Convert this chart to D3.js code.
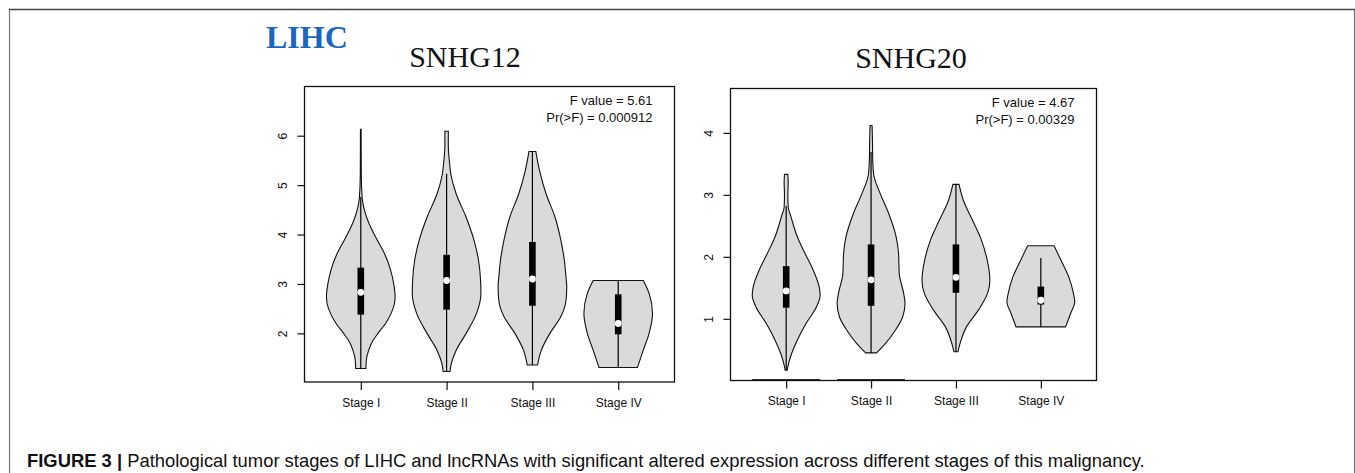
<!DOCTYPE html>
<html>
<head>
<meta charset="utf-8">
<script src="https://cdn.jsdelivr.net/npm/d3@7"></script>
<style>
  body { margin: 0; background: #fff; }
  svg { display: block; }
</style>
</head>
<body>
<script>
// data
const stages = ['Stage I', 'Stage II', 'Stage III', 'Stage IV'];
const genes = ['SNHG12', 'SNHG20'];
const fValues = ['5.61', '4.67'];
const pValues = ['0.000912', '0.00329'];
const snhg12Ticks = [2, 3, 4, 5, 6];
const snhg20Ticks = [1, 2, 3, 4];

// violin outline: [expression, relative half width]
const snhg12Shapes = [
  [[1.29,0.15],[1.45,0.16],[1.66,0.23],[1.85,0.35],[2.0,0.5],[2.2,0.72],[2.4,0.88],[2.6,0.98],[2.75,1.0],[3.0,0.96],[3.3,0.86],[3.6,0.7],[3.9,0.47],[4.1,0.32],[4.35,0.17],[4.75,0.04],[5.2,0.015],[6.13,0.01]],
  [[1.23,0.1],[1.4,0.14],[1.66,0.28],[2.0,0.57],[2.4,0.87],[2.8,1.0],[3.07,0.99],[3.48,0.93],[3.88,0.8],[4.35,0.57],[4.82,0.28],[5.2,0.13],[5.49,0.08],[5.8,0.05],[6.09,0.05]],
  [[1.36,0.15],[1.66,0.26],[2.0,0.51],[2.34,0.83],[2.67,0.98],[2.94,1.0],[3.2,0.97],[3.48,0.93],[3.88,0.83],[4.35,0.66],[4.82,0.4],[5.29,0.21],[5.68,0.1]],
  [[1.31,0.56],[1.66,0.73],[2.0,0.9],[2.4,1.0],[2.81,0.9],[3.07,0.73]]
];
// [lower whisker, q1, median, q3, upper whisker]
const snhg12Box = [
  [1.29, 2.38, 2.83, 3.33, 4.76],
  [1.23, 2.48, 3.07, 3.59, 5.23],
  [1.36, 2.56, 3.10, 3.85, 5.68],
  [1.31, 1.98, 2.20, 2.79, 3.07]
];
const snhg12Floor = [null, null, null, null];

const snhg20Shapes = [
  [[0.17,0.03],[0.23,0.05],[0.44,0.16],[0.66,0.33],[0.92,0.58],[1.19,0.89],[1.38,1.0],[1.52,0.97],[1.78,0.8],[2.05,0.56],[2.32,0.33],[2.65,0.14],[2.8,0.06],[3.0,0.05],[3.2,0.06],[3.33,0.05]],
  [[0.45,0.16],[0.6,0.42],[0.82,0.72],[1.03,0.93],[1.25,1.0],[1.41,0.96],[1.73,0.83],[2.05,0.81],[2.32,0.74],[2.7,0.52],[3.02,0.27],[3.32,0.08],[3.56,0.05],[3.9,0.04],[4.12,0.03]],
  [[0.47,0.06],[0.6,0.12],[0.87,0.31],[1.14,0.66],[1.41,0.93],[1.62,1.0],[1.95,0.92],[2.27,0.75],[2.59,0.49],[2.91,0.22],[3.17,0.09]],
  [[0.87,0.73],[1.09,0.88],[1.27,1.0],[1.41,0.96],[1.68,0.82],[1.95,0.59],[2.18,0.39]]
];
const snhg20Box = [
  [0.17, 1.18, 1.45, 1.85, 2.82],
  [0.45, 1.21, 1.63, 2.20, 3.69],
  [0.47, 1.42, 1.67, 2.20, 3.17],
  [0.87, 1.23, 1.30, 1.52, 1.98]
];
const snhg20Floor = [0.02, 0.02, null, null];

const W = 1355, H = 473;

let svg = d3.select('body').append('svg')
  .attr('width', W)
  .attr('height', H);

svg.append('rect').attr('width', W).attr('height', H).attr('fill', '#fff');

// outer frame
svg.append('path')
  .attr('d', `M9.5,${H} V9.5 H1354.5 V${H}`)
  .attr('fill', 'none')
  .attr('stroke', '#777')
  .attr('stroke-width', 1.2);
svg.append('line')
  .attr('x1', 9).attr('x2', 1355).attr('y1', 9.5).attr('y2', 9.5)
  .attr('stroke', '#444').attr('stroke-width', 1.5);

svg.append('text')
  .attr('x', 266).attr('y', 48)
  .attr('font-family', 'Liberation Serif, Times New Roman, serif')
  .attr('font-weight', 'bold')
  .attr('font-size', '32px')
  .attr('fill', '#1a68bd')
  .text('LIHC');

let panels = [
  {gene: genes[0], f: fValues[0], p: pValues[0], shapes: snhg12Shapes, boxes: snhg12Box, floor: snhg12Floor,
   ticks: snhg12Ticks, left: 304.5, right: 674.5, top: 86.5, bottom: 382, yDomain: [1.016, 6.996], titleX: 465, titleY: 67},
  {gene: genes[1], f: fValues[1], p: pValues[1], shapes: snhg20Shapes, boxes: snhg20Box, floor: snhg20Floor,
   ticks: snhg20Ticks, left: 730.5, right: 1096.5, top: 88.5, bottom: 380.5, yDomain: [0.005, 4.716], titleX: 911, titleY: 68}
];

panels.forEach(function (p) {
  let g = svg.append('g');

  let x = d3.scaleLinear().domain([0.344, 4.656]).range([p.left, p.right]);
  let y = d3.scaleLinear().domain(p.yDomain).range([p.bottom, p.top]);
  let hw = function (r) { return x(1 + 0.4 * r) - x(1); };

  // title
  g.append('text')
    .attr('x', p.titleX).attr('y', p.titleY)
    .attr('text-anchor', 'middle')
    .attr('font-family', 'Liberation Serif, Times New Roman, serif')
    .attr('font-size', '30px')
    .attr('fill', '#111')
    .text(p.gene);

  // violins
  p.shapes.forEach(function (shape, i) {
    let cx = x(i + 1);
    let area = d3.area()
      .y(d => y(d[0]))
      .x0(d => cx - hw(d[1]))
      .x1(d => cx + hw(d[1]))
      .curve(d3.curveMonotoneY);
    g.append('path')
      .attr('d', area(shape))
      .attr('fill', '#dadada')
      .attr('stroke', '#111')
      .attr('stroke-width', 1.1);

    if (p.floor[i] !== null) {
      g.append('line')
        .attr('x1', cx - hw(1)).attr('x2', cx + hw(1))
        .attr('y1', y(p.floor[i])).attr('y2', y(p.floor[i]))
        .attr('stroke', '#222').attr('stroke-width', 1);
    }

    let b = p.boxes[i];
    g.append('line')
      .attr('x1', cx).attr('x2', cx)
      .attr('y1', y(b[0])).attr('y2', y(b[4]))
      .attr('stroke', '#000').attr('stroke-width', 1.2);
    g.append('rect')
      .attr('x', cx - 3.3).attr('width', 6.6)
      .attr('y', y(b[3])).attr('height', y(b[1]) - y(b[3]))
      .attr('fill', '#000');
    g.append('circle')
      .attr('cx', cx).attr('cy', y(b[2]))
      .attr('r', 3.4)
      .attr('fill', '#fff');
  });

  // box
  g.append('rect')
    .attr('x', p.left).attr('y', p.top)
    .attr('width', p.right - p.left).attr('height', p.bottom - p.top)
    .attr('fill', 'none')
    .attr('stroke', '#111')
    .attr('stroke-width', 1.3);

  // x axis
  let xAxis = d3.axisBottom(x)
    .tickValues([1, 2, 3, 4])
    .tickSize(8)
    .tickPadding(8)
    .tickFormat((d, i) => stages[i]);
  let gx = g.append('g')
    .attr('transform', `translate(0,${p.bottom})`)
    .call(xAxis);
  gx.select('.domain').remove();
  gx.selectAll('line').attr('stroke', '#111').attr('stroke-width', 1.2);
  gx.selectAll('text')
    .attr('font-family', 'Liberation Sans, Arial, sans-serif')
    .attr('font-size', '12px')
    .attr('fill', '#111');

  // y axis
  let yAxis = d3.axisLeft(y).tickValues(p.ticks).tickSize(7).tickFormat(d3.format('d'));
  let gy = g.append('g')
    .attr('transform', `translate(${p.left},0)`)
    .call(yAxis);
  gy.select('.domain').remove();
  gy.selectAll('line').attr('stroke', '#111').attr('stroke-width', 1.2);
  gy.selectAll('text')
    .attr('x', null).attr('dy', null)
    .attr('text-anchor', 'middle')
    .attr('dominant-baseline', 'central')
    .attr('transform', 'translate(-22,0) rotate(-90)')
    .attr('font-family', 'Liberation Sans, Arial, sans-serif')
    .attr('font-size', '12px')
    .attr('fill', '#111');

  // stats
  g.append('text')
    .attr('x', p.right - 22).attr('y', p.top + 18.5)
    .attr('text-anchor', 'end')
    .attr('font-family', 'Liberation Sans, Arial, sans-serif')
    .attr('font-size', '13px')
    .attr('fill', '#111')
    .text('F value = ' + p.f);
  g.append('text')
    .attr('x', p.right - 22).attr('y', p.top + 35)
    .attr('text-anchor', 'end')
    .attr('font-family', 'Liberation Sans, Arial, sans-serif')
    .attr('font-size', '13px')
    .attr('fill', '#111')
    .text('Pr(>F) = ' + p.p);
});

// caption
let cap = svg.append('text')
  .attr('x', 27).attr('y', 467)
  .attr('font-family', 'Liberation Sans, Arial, sans-serif')
  .attr('font-size', '18.4px')
  .attr('fill', '#111');
cap.append('tspan').attr('font-weight', 'bold').text('FIGURE 3 | ');
cap.append('tspan').text('Pathological tumor stages of LIHC and lncRNAs with significant altered expression across different stages of this malignancy.');
</script>
</body>
</html>
